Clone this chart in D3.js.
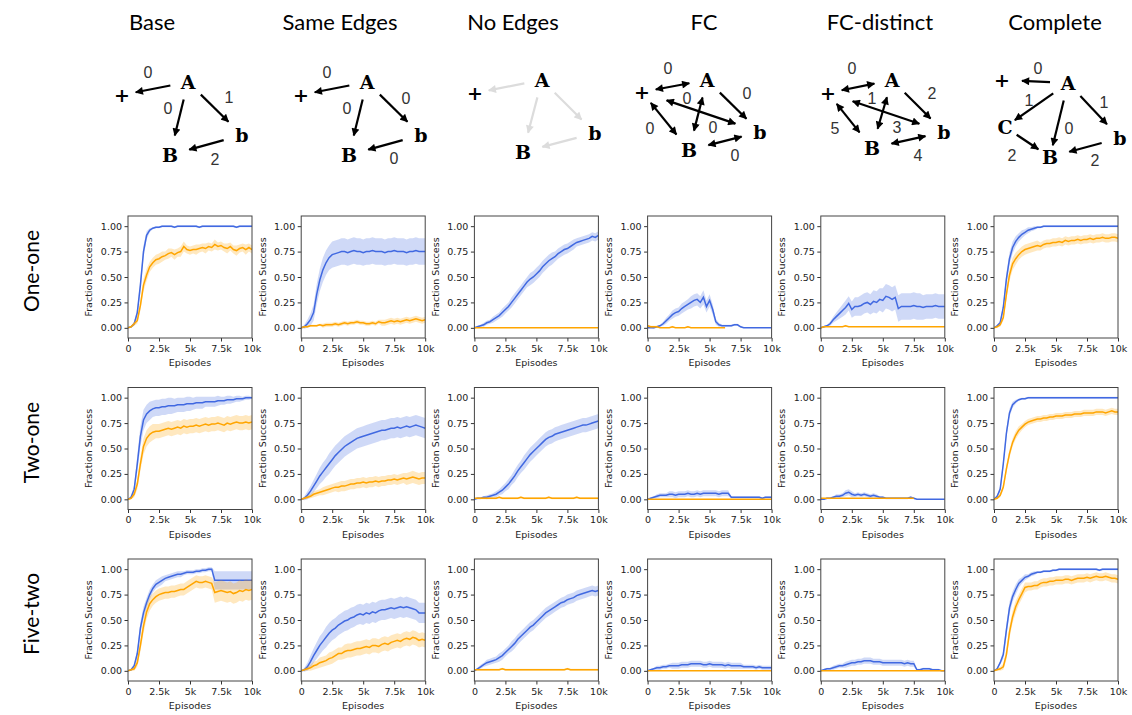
<!DOCTYPE html>
<html>
<head>
<meta charset="utf-8">
<script src="https://cdn.jsdelivr.net/npm/d3@7"></script>
<style>
  body { margin: 0; background: #fff; }
</style>
</head>
<body>
<svg id="fig" width="1132" height="715"></svg>
<script>
const columns = ["Base", "Same Edges", "No Edges", "FC", "FC-distinct", "Complete"];
const rows = ["One-one", "Two-one", "Five-two"];
const xTicks = [0, 2500, 5000, 7500, 10000];
const xTickLabels = ["0", "2.5k", "5k", "7.5k", "10k"];
const yTicks = [0, 0.25, 0.5, 0.75, 1];
const step = 250; // episodes between samples, values below are fraction success in %

// ---- One-one ----
const oneBaseBlue = [0,1,4,15,42,75,91,96,98,99,99, 100,100,100,100,99,100,100,100,100,100, 100,100,99,100,100,100,100,100,100,100, 100,100,100,100,99,100,100,100,100,100];
const oneBaseBlueBand = [0,1,2,4,6,6,4,2,1,1,1, 1,1,1,1,1,1,1,1,1,1, 1,1,1,1,1,1,1,1,1,1, 1,1,1,1,1,1,1,1,1,1];
const oneBaseOrange = [0,1,4,7,22,42,52,60,64,67,68, 70,71,73,74,72,74,75,80,77,76, 77,77,78,79,78,80,79,82,80,81, 79,78,80,77,76,78,79,77,79,77];
const oneBaseOrangeBand = [0,1,2,3,5,6,6,5,5,5,5, 5,4,5,4,5,4,5,5,4,4, 4,5,4,4,5,4,4,5,4,4, 4,5,4,4,5,4,4,5,4,4];

const oneSameBlue = [0,1,4,8,15,33,47,57,64,69,72, 73,74,75,75,74,75,76,75,75,74, 75,75,76,75,75,75,74,75,75,76, 75,75,75,74,75,75,76,75,75,75];
const oneSameBlueBand = [0,2,4,6,8,10,11,12,12,12,13, 13,13,13,13,13,13,13,13,13,13, 13,13,13,13,13,13,13,13,13,13, 13,13,13,13,13,13,13,13,13,13];
const oneSameOrange = [0,1,1,2,2,2,3,2,3,3,3, 4,3,4,5,4,5,5,6,5,5, 4,4,5,4,6,5,5,6,7,6, 7,6,7,8,7,8,9,8,7,8];
const oneSameOrangeBand = [0,1,1,1,1,1,1,2,2,2,2, 2,2,2,2,2,2,2,2,2,2, 2,2,2,2,2,3,3,3,3,3, 3,3,3,3,3,3,3,3,3,3];

const oneNoBlue = [0,1,2,3,5,6,8,10,12,15,18, 21,25,29,33,37,41,45,48,50,53, 56,60,63,66,68,70,73,75,77,78, 80,82,84,85,86,87,88,90,89,91];
const oneNoBlueBand = [0,1,1,2,2,2,3,3,3,4,4, 4,5,5,5,5,5,5,6,6,6, 6,6,6,6,6,5,5,5,5,5, 5,5,4,4,4,4,4,4,4,4];
const oneNoOrange = [0,0,0,0,0,0,0,0,0,0,0, 0,0,0,0,0,0,0,0,0,0, 0,0,0,0,0,0,0,0,0,0, 0,0,0,0,0,0,0,0,0,0];
const oneNoOrangeBand = [0,0,0,0,0,0,0,0,0,0,0, 0,0,0,0,0,0,0,0,0,0, 0,0,0,0,0,0,0,0,0,0, 0,0,0,0,0,0,0,0,0,0];

const oneFcBlue = [0,0,0,1,2,4,7,10,13,15,16, 19,21,23,25,27,28,25,30,21,27, 18,6,3,2,2,2,2,3,3,1, 0,0,0,0,0,0,0,0,0,0];
const oneFcBlueBand = [0,0,1,1,1,2,3,3,4,4,4, 5,5,5,6,6,6,6,7,6,6, 5,3,2,1,1,1,1,1,1,1, 0,0,0,0,0,0,0,0,0,0];
const oneFcOrange = [2,1,1,1,0,0,0,0,1,0,0, 0,0,1,0,0,0,0,0,0,0, 0,0,0,0,0];
const oneFcOrangeBand = [1,1,1,1,0,0,0,0,1,0,0, 0,0,1,0,0,0,0,0,0,0, 0,0,0,0,0];

const oneFcdBlue = [0,1,2,4,8,11,14,17,20,24,18, 21,21,22,24,25,23,26,25,28,27, 31,30,28,30,19,21,21,21,21,22, 21,21,20,21,21,21,22,21,21,21];
const oneFcdBlueBand = [0,1,1,2,3,4,5,6,7,7,8, 9,9,10,10,10,10,11,11,11,12, 12,12,12,12,13,13,13,13,13,13, 13,13,12,12,12,12,12,12,12,12];
const oneFcdOrange = [0,1,1,1,1,1,1,1,2,1,1, 1,1,1,1,1,1,1,1,1,1, 1,1,1,1,1,1,1,1,1,1, 1,1,1,1,1,1,1,1,1,1];
const oneFcdOrangeBand = [0,0,0,0,0,0,0,0,1,0,0, 0,0,0,0,0,0,0,0,0,0, 0,0,0,0,0,0,0,0,0,0, 0,0,0,0,0,0,0,0,0,0];

const oneCompBlue = [0,2,5,20,48,68,79,85,89,92,94, 96,97,98,99,99,100,100,100,100,100, 100,100,100,100,100,100,100,100,100,100, 100,100,100,100,100,100,100,100,100,100];
const oneCompBlueBand = [0,1,2,4,6,6,6,5,4,4,3, 3,2,2,1,1,1,1,1,1,1, 1,1,1,1,1,1,1,1,1,1, 1,1,1,1,1,1,1,1,1,1];
const oneCompOrange = [0,1,3,10,33,52,63,68,72,75,77, 78,79,80,81,80,82,83,83,84,84, 85,84,86,85,86,86,87,86,87,87, 88,87,88,88,89,88,88,89,89,88];
const oneCompOrangeBand = [0,1,2,3,5,6,6,6,5,5,5, 5,5,5,5,4,4,4,4,4,4, 4,4,4,4,4,4,4,4,4,4, 4,4,4,4,4,4,4,4,4,4];

// ---- Two-one ----
const twoBaseBlue = [0,2,10,35,62,78,84,87,89,90,90, 91,91,92,92,92,93,93,93,94,94, 94,95,95,95,96,96,96,96,97,97, 97,98,98,98,99,99,99,100,100,100];
const twoBaseBlueBand = [0,2,4,8,10,10,9,9,8,8,8, 8,8,8,8,7,7,7,7,7,7, 6,6,6,6,5,5,5,5,5,4, 4,4,4,3,3,3,2,2,2,1];
const twoBaseOrange = [0,1,5,15,35,52,60,64,66,67,67, 68,69,70,69,70,71,70,72,71,72, 72,73,72,73,74,73,74,74,75,74, 73,75,74,75,76,75,75,76,75,76];
const twoBaseOrangeBand = [0,1,3,5,7,8,8,8,8,7,7, 7,7,7,7,7,7,7,7,7,7, 7,7,7,7,7,7,7,7,7,7, 7,7,7,7,7,7,7,7,7,7];

const twoSameBlue = [0,1,4,8,13,18,23,27,31,35,39, 43,46,49,52,54,56,58,60,61,62, 63,64,65,66,67,68,68,69,70,70, 71,70,71,72,71,72,73,72,71,70];
const twoSameBlueBand = [0,2,4,5,6,7,8,9,9,10,10, 10,10,10,10,10,10,10,10,10,10, 10,10,10,10,10,10,10,10,10,10, 10,10,10,10,10,10,10,10,10,10];
const twoSameOrange = [0,1,2,3,5,6,7,8,9,10,11, 12,12,13,13,14,15,15,16,16,17, 16,17,17,18,17,18,18,19,19,20, 19,20,21,20,21,22,21,20,21,21];
const twoSameOrangeBand = [0,1,2,2,3,3,3,4,4,4,4, 4,5,5,5,5,5,5,5,5,5, 5,5,5,5,5,5,5,5,5,5, 5,5,5,6,6,6,6,6,6,6];

const twoNoBlue = [0,1,1,2,2,3,4,5,7,9,12, 15,19,23,28,32,36,40,44,47,50, 53,56,59,61,62,64,65,66,67,68, 69,70,71,72,73,73,74,75,76,77];
const twoNoBlueBand = [0,1,1,1,2,2,2,3,3,4,4, 5,5,6,6,6,7,7,7,7,7, 7,7,7,7,7,7,7,7,7,7, 7,7,7,7,7,7,7,7,7,7];
const twoNoOrange = [1,1,1,1,1,1,1,1,2,1,1, 1,1,1,1,2,1,1,1,1,1, 1,1,1,2,1,1,1,1,1,1, 1,1,2,1,1,1,1,1,1,1];
const twoNoOrangeBand = [0,1,1,1,1,1,1,1,1,1,1, 1,1,1,1,1,1,1,1,1,1, 1,1,1,1,1,1,1,1,1,1, 1,1,1,1,1,1,1,1,1,1];

const twoFcBlue = [0,1,2,3,4,4,4,5,5,4,5, 5,5,6,5,5,6,5,6,6,6, 6,6,5,6,6,6,2,2,2,2, 2,2,2,2,2,2,1,2,2,2];
const twoFcBlueBand = [0,1,1,2,2,2,2,3,3,3,3, 3,3,3,3,3,3,3,3,3,3, 3,3,3,3,3,3,1,1,1,1, 1,1,1,1,1,1,1,1,1,1];
const twoFcOrange = [0,0,0,0,0,0,0,0,0,0,0, 0,0,0,0,0,0,0,0,0,0, 0,0,0,0,0,0,0,0,0,0, 0,0,0,0,0,0,0,0,0,0];
const twoFcOrangeBand = [0,0,0,0,0,0,0,0,0,0,0, 0,0,0,0,0,0,0,0,0,0, 0,0,0,0,0,0,0,0,0,0, 0,0,0,0,0,0,0,0,0,0];

const twoFcdBlue = [0,0,1,1,2,3,3,4,6,7,5, 4,5,4,5,4,3,4,3,2,2, 1,1,1,1,1,1,1,1,2,1, 0,0,0,0,0,0,0,0,0,0];
const twoFcdBlueBand = [0,0,1,1,1,2,2,2,3,3,3, 2,2,2,2,2,2,2,2,1,1, 1,1,1,1,1,1,1,1,1,1, 0,0,0,0,0,0,0,0,0,0];
const twoFcdOrange = [1,1,1,1,1,1,1,1,1,1,1, 1,1,1,1,1,1,1,1,1,1, 1,1,1,1,1,1,1,1,1,1];
const twoFcdOrangeBand = [0,0,0,0,0,0,0,0,0,0,0, 0,0,0,0,0,0,0,0,0,0, 0,0,0,0,0,0,0,0,0,0];

const twoCompBlue = [0,3,10,35,65,85,93,96,98,99,99, 100,100,100,100,100,100,100,100,100,100, 100,100,100,100,100,100,100,100,100,100, 100,100,100,100,100,100,100,100,100,100];
const twoCompBlueBand = [0,1,3,5,5,4,3,2,1,1,1, 1,1,1,1,1,1,1,1,1,1, 1,1,1,1,1,1,1,1,1,1, 1,1,1,1,1,1,1,1,1,1];
const twoCompOrange = [0,1,4,12,30,45,56,63,68,71,74, 76,77,78,79,79,80,80,81,81,82, 82,82,83,83,83,84,84,84,85,85, 85,85,86,86,86,85,86,87,86,86];
const twoCompOrangeBand = [0,1,2,3,4,4,4,4,4,3,3, 3,3,3,3,3,3,3,3,3,3, 3,3,3,3,3,3,3,3,3,3, 3,3,3,3,3,3,3,3,3,3];

// ---- Five-two ----
const fiveBaseBlue = [0,1,5,17,42,57,67,75,81,85,87, 89,91,92,93,94,95,95,96,97,97, 97,98,98,99,99,100,100,89,89,89, 89,89,89,89,89,89,89,89,89,89];
const fiveBaseBlueBand = [0,1,2,4,6,6,5,5,4,4,4, 4,3,3,3,3,3,3,2,2,2, 2,2,2,2,2,2,2,9,9,9, 9,9,9,9,9,9,9,9,9,9];
const fiveBaseOrange = [0,1,2,8,25,44,58,66,70,73,75, 76,77,77,78,78,79,80,80,82,84, 86,88,87,87,88,87,86,77,78,79, 78,77,78,76,77,79,78,80,79,80];
const fiveBaseOrangeBand = [0,1,2,4,6,7,7,7,6,6,6, 6,6,6,6,6,6,6,6,6,6, 6,6,6,6,6,6,6,10,10,10, 10,10,10,10,10,10,10,10,10,10];

const fiveSameBlue = [0,1,4,9,15,20,25,29,33,37,40, 42,45,47,49,50,52,53,55,56,55, 57,56,58,57,59,60,60,61,62,61, 62,63,62,63,62,61,60,57,57,57];
const fiveSameBlueBand = [0,2,4,6,7,8,9,9,10,10,10, 10,10,10,10,10,10,10,10,10,10, 10,10,10,10,10,10,10,10,10,10, 10,10,10,10,10,10,10,10,10,10];
const fiveSameOrange = [0,1,2,3,5,6,8,9,10,12,13, 15,17,17,19,20,20,21,22,22,23, 24,23,25,25,24,26,27,26,28,29, 30,29,31,32,31,33,32,30,31,30];
const fiveSameOrangeBand = [0,1,2,3,4,4,5,5,5,6,6, 6,6,6,7,7,7,7,7,7,7, 7,7,7,7,7,7,7,7,7,7, 7,7,7,7,7,7,7,7,7,7];

const fiveNoBlue = [0,2,4,6,8,9,10,11,13,15,18, 21,24,27,31,34,37,40,43,45,48, 51,54,57,59,61,63,65,67,68,70, 71,72,74,75,76,77,78,79,78,79];
const fiveNoBlueBand = [0,1,2,2,3,3,3,3,4,4,4, 4,5,5,5,5,5,5,5,5,5, 5,5,5,5,5,5,5,5,5,5, 5,5,5,5,5,5,5,5,5,5];
const fiveNoOrange = [1,1,1,1,1,1,1,1,1,2,1, 1,1,1,1,1,1,1,1,1,1, 1,1,1,1,1,1,1,1,1,2, 1,1,1,1,1,1,1,1,1,1];
const fiveNoOrangeBand = [0,1,1,1,1,1,1,1,1,1,1, 1,1,1,1,1,1,1,1,1,1, 1,1,1,1,1,1,1,1,1,1, 1,1,1,1,1,1,1,1,1,1];

const fiveFcBlue = [0,1,2,3,3,4,4,5,5,5,5, 6,6,6,7,7,7,7,6,6,7, 6,6,6,6,5,6,5,5,5,5, 4,4,4,4,3,4,3,3,3,3];
const fiveFcBlueBand = [0,1,1,2,2,2,2,2,3,3,3, 3,3,3,3,3,3,3,3,3,3, 3,3,3,3,3,3,3,3,3,3, 2,2,2,2,2,2,2,2,2,2];
const fiveFcOrange = [0,0,0,0,0,0,0,0,0,0,0, 0,0,0,0,0,0,0,0,0,0, 0,0,0,0,0,0,0,0,0,0, 0,0,0,0,0,0,0,0,0,0];
const fiveFcOrangeBand = [0,0,0,0,0,0,0,0,0,0,0, 0,0,0,0,0,0,0,0,0,0, 0,0,0,0,0,0,0,0,0,0, 0,0,0,0,0,0,0,0,0,0];

const fiveFcdBlue = [0,1,2,2,3,4,5,5,6,7,8, 8,9,9,10,10,10,9,9,9,8, 8,8,8,8,8,8,7,8,7,7, 1,1,2,2,2,1,1,1,0,0];
const fiveFcdBlueBand = [0,1,1,1,2,2,2,2,3,3,3, 3,3,3,3,3,3,3,3,3,3, 3,3,3,3,3,3,3,3,3,3, 1,1,1,1,1,1,1,1,0,0];
const fiveFcdOrange = [0,0,0,0,0,0,0,0,0,0,0, 0,0,0,0,0,0,0,0,0,0, 0,0,0,0,0,0,0,0,0,0, 0,0,0,0,0,0,0,0,0,0];
const fiveFcdOrangeBand = [0,0,0,0,0,0,0,0,0,0,0, 0,0,0,0,0,0,0,0,0,0, 0,0,0,0,0,0,0,0,0,0, 0,0,0,0,0,0,0,0,0,0];

const fiveCompBlue = [0,2,8,16,40,62,73,80,86,89,92, 93,95,96,97,97,98,98,98,99,99, 100,100,100,100,100,100,100,100,100,100, 100,100,100,99,100,100,100,100,100,100];
const fiveCompBlueBand = [0,1,2,4,6,6,5,5,4,3,3, 2,2,2,1,1,1,1,1,1,1, 1,1,1,1,1,1,1,1,1,1, 1,1,1,1,1,1,1,1,1,1];
const fiveCompOrange = [0,1,2,4,16,38,53,63,70,76,82, 83,83,84,84,86,87,87,88,88,89, 89,89,90,90,89,90,91,91,91,92, 91,92,93,92,92,93,92,91,91,90];
const fiveCompOrangeBand = [0,1,2,3,5,6,6,6,5,5,5, 4,4,4,4,4,4,4,4,4,4, 4,4,4,4,4,4,4,4,4,4, 4,4,4,4,4,4,4,4,4,4];

const panelData = [
  [
    { blue: oneBaseBlue, blueBand: oneBaseBlueBand, orange: oneBaseOrange, orangeBand: oneBaseOrangeBand },
    { blue: oneSameBlue, blueBand: oneSameBlueBand, orange: oneSameOrange, orangeBand: oneSameOrangeBand },
    { blue: oneNoBlue, blueBand: oneNoBlueBand, orange: oneNoOrange, orangeBand: oneNoOrangeBand },
    { blue: oneFcBlue, blueBand: oneFcBlueBand, orange: oneFcOrange, orangeBand: oneFcOrangeBand },
    { blue: oneFcdBlue, blueBand: oneFcdBlueBand, orange: oneFcdOrange, orangeBand: oneFcdOrangeBand },
    { blue: oneCompBlue, blueBand: oneCompBlueBand, orange: oneCompOrange, orangeBand: oneCompOrangeBand }
  ],
  [
    { blue: twoBaseBlue, blueBand: twoBaseBlueBand, orange: twoBaseOrange, orangeBand: twoBaseOrangeBand },
    { blue: twoSameBlue, blueBand: twoSameBlueBand, orange: twoSameOrange, orangeBand: twoSameOrangeBand },
    { blue: twoNoBlue, blueBand: twoNoBlueBand, orange: twoNoOrange, orangeBand: twoNoOrangeBand },
    { blue: twoFcBlue, blueBand: twoFcBlueBand, orange: twoFcOrange, orangeBand: twoFcOrangeBand },
    { blue: twoFcdBlue, blueBand: twoFcdBlueBand, orange: twoFcdOrange, orangeBand: twoFcdOrangeBand },
    { blue: twoCompBlue, blueBand: twoCompBlueBand, orange: twoCompOrange, orangeBand: twoCompOrangeBand }
  ],
  [
    { blue: fiveBaseBlue, blueBand: fiveBaseBlueBand, orange: fiveBaseOrange, orangeBand: fiveBaseOrangeBand },
    { blue: fiveSameBlue, blueBand: fiveSameBlueBand, orange: fiveSameOrange, orangeBand: fiveSameOrangeBand },
    { blue: fiveNoBlue, blueBand: fiveNoBlueBand, orange: fiveNoOrange, orangeBand: fiveNoOrangeBand },
    { blue: fiveFcBlue, blueBand: fiveFcBlueBand, orange: fiveFcOrange, orangeBand: fiveFcOrangeBand },
    { blue: fiveFcdBlue, blueBand: fiveFcdBlueBand, orange: fiveFcdOrange, orangeBand: fiveFcdOrangeBand },
    { blue: fiveCompBlue, blueBand: fiveCompBlueBand, orange: fiveCompOrange, orangeBand: fiveCompOrangeBand }
  ]
];

// ---- graph diagrams: node offsets from "A", edges [from, to, weight, labelDx, labelDy, twoWay, trims] ----
const baseNodes = { "A": [0, 0], "+": [-66, 13], "b": [54, 53], "B": [-18, 73] };
const noEdgeNodes = { "A": [0, 0], "+": [-67, 13], "b": [53, 53], "B": [-19, 72] };
const fcNodes = { "A": [0, 0], "+": [-65, 12], "b": [53, 52], "B": [-18, 70] };
const fcdNodes = { "A": [0, 0], "+": [-64, 13], "b": [52, 52], "B": [-20, 68] };
const completeNodes = { "A": [0, 0], "+": [-66, -3], "C": [-63, 44], "B": [-18, 74], "b": [52, 55] };

const baseEdges = [["A", "+", "0", -40, -10], ["A", "B", "0", -20, 26], ["A", "b", "1", 41, 15], ["b", "B", "2", 27, 77]];
const sameEdges = [["A", "+", "0", -40, -10], ["A", "B", "0", -20, 26], ["A", "b", "0", 39, 16], ["b", "B", "0", 27, 76]];
const noEdges = [["A", "+", ""], ["A", "B", ""], ["A", "b", ""], ["b", "B", ""]];
const fcEdges = [["+", "A", "0", -39, -12, true], ["+", "b", "0", -20, 18, true, [26, 26]], ["A", "b", "0", 40, 13],
  ["+", "B", "0", -57, 48, true], ["A", "B", "0", 6, 47, true], ["B", "b", "0", 28, 75, true]];
const fcdEdges = [["+", "A", "0", -40, -12, true], ["+", "b", "1", -20, 18, true, [26, 26]], ["A", "b", "2", 40, 13],
  ["+", "B", "5", -57, 48, true], ["A", "B", "3", 5, 47, true], ["B", "b", "4", 26, 75, true]];
const completeEdges = [["A", "+", "0", -30, -15, false, [18, 20]], ["A", "C", "1", -39, 17, false, [18, 12]],
  ["A", "B", "0", 1, 45, false, [18, 12]], ["A", "b", "1", 36, 19], ["C", "B", "2", -56, 72, false, [14, 14]],
  ["b", "B", "2", 27, 77]];

const diagrams = [
  { nodes: baseNodes, edges: baseEdges, color: "#000" },
  { nodes: baseNodes, edges: sameEdges, color: "#000" },
  { nodes: noEdgeNodes, edges: noEdges, color: "#dcdcdc" },
  { nodes: fcNodes, edges: fcEdges, color: "#000" },
  { nodes: fcdNodes, edges: fcdEdges, color: "#000" },
  { nodes: completeNodes, edges: completeEdges, color: "#000" }
];

// ---- layout ----
const titleCenters = [152, 340, 513, 704, 880, 1055];
const diagramOrigins = [[188, 82], [367, 82], [542, 80], [707, 80], [892, 80], [1068, 83]];
const nodeRadius = { "A": 18, "B": 20, "b": 19, "C": 18, "+": 14 };
const plotW = 124, plotH = 122;
const colLeft = d3.scaleLinear().domain([0, 5]).range([128, 994]);
const rowTop = d3.scaleLinear().domain([0, 2]).range([216, 559]);
const blue = "#4169e1", orange = "#ffa500";
const tickFont = "DejaVu Sans";
const labelFont = "Lato, 'Liberation Sans', sans-serif";
const nodeFont = "'DejaVu Serif', serif";

const svg = d3.select("#fig");
const defs = svg.append("defs");

["#000", "#dcdcdc"].forEach((col, i) => {
  defs.append("marker")
    .attr("id", "head" + i)
    .attr("viewBox", "0 0 10 10")
    .attr("refX", 9)
    .attr("refY", 5)
    .attr("markerWidth", 9)
    .attr("markerHeight", 8)
    .attr("markerUnits", "userSpaceOnUse")
    .attr("orient", "auto-start-reverse")
    .append("path")
    .attr("d", "M0,0L10,5L0,10z")
    .attr("fill", col);
});

// column titles
svg.selectAll(".title")
  .data(columns)
  .join("text")
  .attr("class", "title")
  .attr("x", (_, i) => titleCenters[i])
  .attr("y", 30)
  .attr("text-anchor", "middle")
  .attr("font-family", labelFont)
  .attr("font-size", 22)
  .text(d => d);

// row labels
svg.selectAll(".rowlabel")
  .data(rows)
  .join("text")
  .attr("class", "rowlabel")
  .attr("transform", (_, i) => `translate(32, ${rowTop(i) + plotH / 2 - 6}) rotate(-90)`)
  .attr("dy", "0.35em")
  .attr("text-anchor", "middle")
  .attr("font-family", labelFont)
  .attr("font-size", 21)
  .text(d => d);

// diagrams
diagrams.forEach((dg, i) => {
  const [ox, oy] = diagramOrigins[i];
  const g = svg.append("g").attr("transform", `translate(${ox}, ${oy})`);
  const markerId = dg.color === "#000" ? "head0" : "head1";

  dg.edges.forEach(([s, t, w, lx, ly, both, trims]) => {
    const [x1, y1] = dg.nodes[s], [x2, y2] = dg.nodes[t];
    const len = Math.hypot(x2 - x1, y2 - y1);
    const ux = (x2 - x1) / len, uy = (y2 - y1) / len;
    const t0 = trims ? trims[0] : nodeRadius[s];
    const t1 = trims ? trims[1] : nodeRadius[t];
    const line = g.append("line")
      .attr("x1", x1 + ux * t0).attr("y1", y1 + uy * t0)
      .attr("x2", x2 - ux * t1).attr("y2", y2 - uy * t1)
      .attr("stroke", dg.color)
      .attr("stroke-width", 2.2)
      .attr("marker-end", `url(#${markerId})`);
    if (both) line.attr("marker-start", `url(#${markerId})`);
    if (w) {
      g.append("text")
        .attr("x", lx).attr("y", ly)
        .attr("dy", "0.36em")
        .attr("text-anchor", "middle")
        .attr("font-family", "'Liberation Sans', Arial, sans-serif")
        .attr("font-size", 16)
        .attr("fill", "#333")
        .text(w);
    }
  });

  Object.entries(dg.nodes).forEach(([name, [nx, ny]]) => {
    g.append("text")
      .attr("x", nx).attr("y", ny)
      .attr("dy", "0.36em")
      .attr("text-anchor", "middle")
      .attr("font-family", nodeFont)
      .attr("font-weight", "bold")
      .attr("font-size", 19)
      .attr("fill", "#000")
      .text(name);
  });
});

// panels
const x = d3.scaleLinear().domain([0, 10000]).range([0, plotW]);
const y = d3.scaleLinear().domain([-0.1, 1.1]).range([plotH, 0]);

panelData.forEach((row, r) => row.forEach((p, c) => {
  const g = svg.append("g").attr("transform", `translate(${colLeft(c)}, ${rowTop(r)})`);
  const clipId = `clip-${r}-${c}`;
  defs.append("clipPath").attr("id", clipId)
    .append("rect").attr("width", plotW).attr("height", plotH);

  const plot = g.append("g").attr("clip-path", `url(#${clipId})`);

  [[p.blue, p.blueBand, blue], [p.orange, p.orangeBand, orange]].forEach(([vals, band, col]) => {
    const area = d3.area()
      .x((_, i) => x(i * step))
      .y0((d, i) => y((d - band[i]) / 100))
      .y1((d, i) => y((d + band[i]) / 100));
    const line = d3.line()
      .x((_, i) => x(i * step))
      .y(d => y(d / 100));

    plot.append("path")
      .datum(vals)
      .attr("fill", col)
      .attr("fill-opacity", 0.25)
      .attr("d", area);
    plot.append("path")
      .datum(vals)
      .attr("fill", "none")
      .attr("stroke", col)
      .attr("stroke-width", 1.5)
      .attr("d", line);
  });

  const yAxis = g.append("g")
    .call(d3.axisLeft(y).tickValues(yTicks).tickFormat(d3.format(".2f")).tickSize(3.5).tickPadding(2.5));
  const xAxis = g.append("g")
    .attr("transform", `translate(0, ${plotH})`)
    .call(d3.axisBottom(x).tickValues(xTicks).tickFormat((_, i) => xTickLabels[i]).tickSize(3.5).tickPadding(3.5));

  [yAxis, xAxis].forEach(ax => {
    ax.select(".domain").remove();
    ax.selectAll("line").attr("stroke", "#333");
    ax.selectAll("text").attr("fill", "#222");
    ax.attr("font-family", tickFont).attr("font-size", 9.5);
  });

  g.append("rect")
    .attr("width", plotW)
    .attr("height", plotH)
    .attr("fill", "none")
    .attr("stroke", "#444")
    .attr("stroke-width", 1);

  g.append("text")
    .attr("transform", `translate(-39, ${plotH / 2}) rotate(-90)`)
    .attr("dy", "0.35em")
    .attr("text-anchor", "middle")
    .attr("font-family", tickFont)
    .attr("font-size", 9.5)
    .attr("fill", "#222")
    .text("Fraction Success");

  g.append("text")
    .attr("x", plotW / 2)
    .attr("y", plotH + 25)
    .attr("dy", "0.35em")
    .attr("text-anchor", "middle")
    .attr("font-family", tickFont)
    .attr("font-size", 9.5)
    .attr("fill", "#222")
    .text("Episodes");
}));
</script>
</body>
</html>
